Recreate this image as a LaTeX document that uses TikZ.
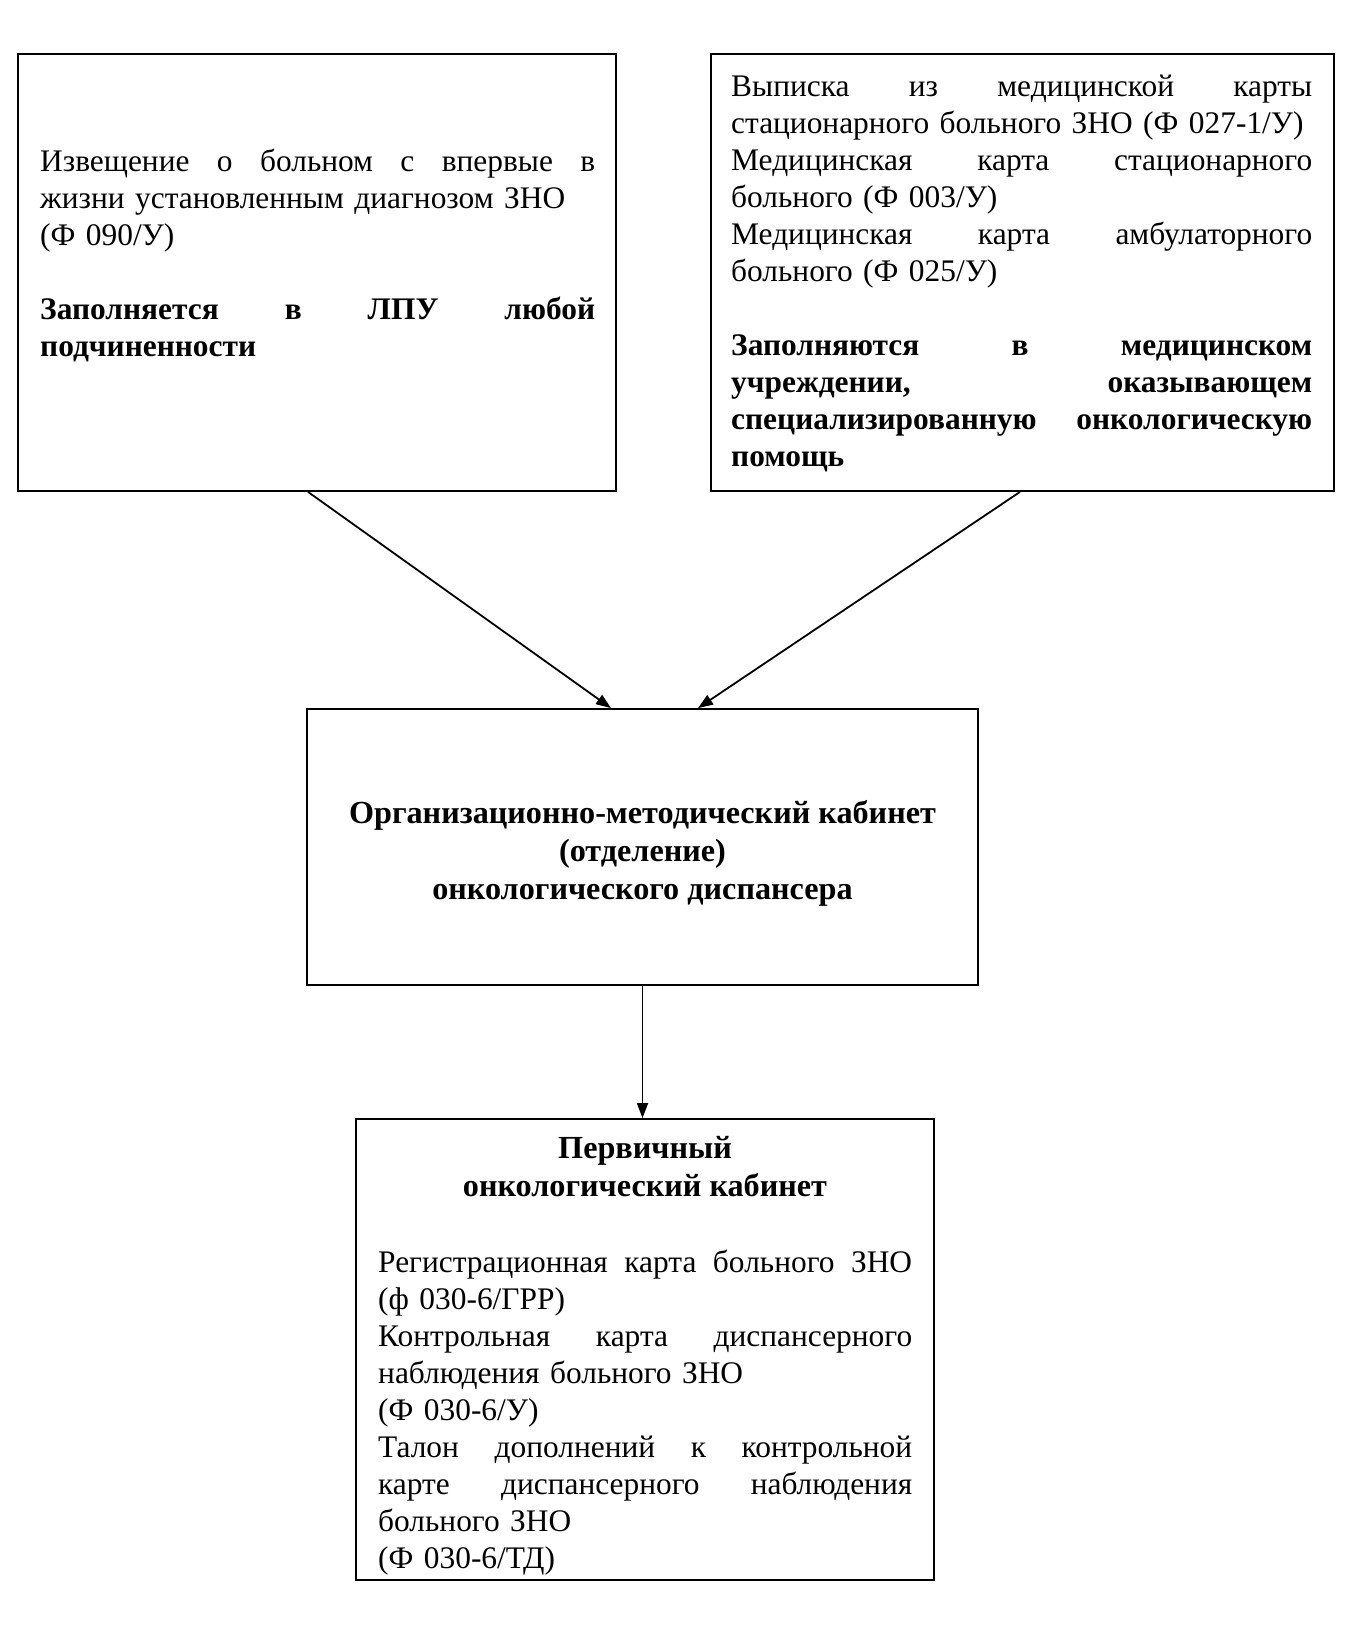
\documentclass[tikz,border=0pt]{standalone}
\usepackage{fontspec}
\setmainfont{Liberation Serif}
\usetikzlibrary{arrows.meta}
\newcommand\jl[1]{\leavevmode\hbox to \linewidth{\spaceskip=.25em plus 1fill\relax #1}}
\tikzset{
  box/.style={draw, line width=1.8pt, inner sep=0pt},
  txt/.style={inner sep=0pt, anchor=north west, align=left,
    font=\fontsize{31.4}{37}\selectfont,
    execute at begin node={\setlength{\parindent}{0pt}}},
  ctxt/.style={inner sep=0pt, anchor=north, align=center,
    font=\fontsize{32.2}{38}\selectfont\bfseries},
  arr/.style={line width=1.8pt, -{Triangle[length=15pt,width=11pt]}}
}
\begin{document}
\begin{tikzpicture}[x=1pt,y=-1pt]
\useasboundingbox[fill=white] (0,0) rectangle (1365,1632);
% boxes
\node[box, minimum width=598pt, minimum height=437pt] (b1) at (317,272.5) {};
\node[box, minimum width=623pt, minimum height=437pt] (b2) at (1022.5,272.5) {};
\node[box, minimum width=671pt, minimum height=276pt] (b3) at (642.5,847) {};
\node[box, minimum width=578pt, minimum height=461pt] (b4) at (645,1349.5) {};
% texts
\node[txt, text width=555pt] (t1) at (40,149) {%
\jl{Извещение о больном с впервые в}\\
жизни установленным диагнозом ЗНО\\
(Ф 090/У)\\[36.5pt]
\bfseries\jl{Заполняется в ЛПУ любой}\\
подчиненности};
\node[txt, text width=581pt] (t2) at (731,75) {%
\jl{Выписка из медицинской карты}\\
стационарного больного ЗНО (Ф 027-1/У)\\
\jl{Медицинская карта стационарного}\\
больного (Ф 003/У)\\
\jl{Медицинская карта амбулаторного}\\
больного (Ф 025/У)\\[37pt]
\bfseries\jl{Заполняются в медицинском}\\
\jl{учреждении, оказывающем}\\
\jl{специализированную онкологическую}\\
помощь};
\node[ctxt] (t3) at (642.5,800) {Организационно-методический кабинет\\(отделение)\\онкологического диспансера};
\node[ctxt] (t4) at (645,1136) {Первичный\\онкологический кабинет};
\node[txt, text width=534pt] (t5) at (378,1250) {%
\jl{Регистрационная карта больного ЗНО}\\
(ф 030-6/ГРР)\\
\jl{Контрольная карта диспансерного}\\
наблюдения больного ЗНО\\
(Ф 030-6/У)\\
\jl{Талон дополнений к контрольной}\\
\jl{карте диспансерного наблюдения}\\
больного ЗНО\\
(Ф 030-6/ТД)};
% connectors
\draw[arr] ([xshift=-9pt]b1.south) -- ([xshift=-31.5pt]b3.north);
\draw[arr] ([xshift=-2.5pt]b2.south) -- ([xshift=55.5pt]b3.north);
\draw[arr] (b3.south) -- (b3.south |- b4.north);
\end{tikzpicture}
\end{document}
